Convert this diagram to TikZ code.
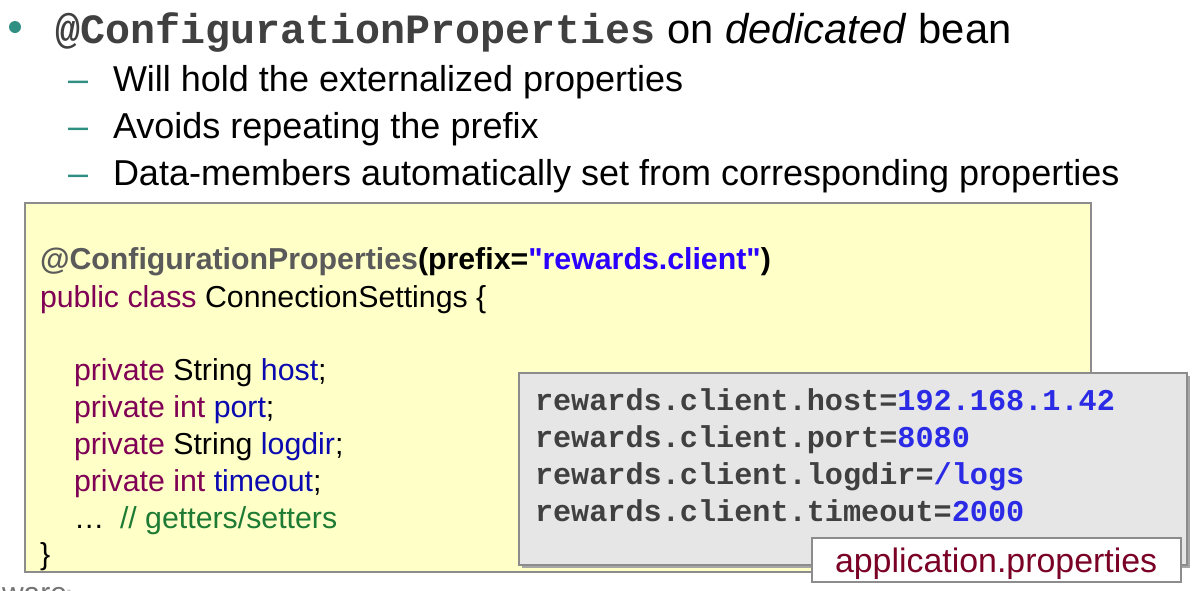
\documentclass[tikz,border=0pt]{standalone}
\usepackage{fontspec}
\setmainfont{Liberation Sans}[Ligatures=TeXOff]
\setmonofont{Liberation Mono}
\definecolor{teal}{HTML}{2F8F83}
\definecolor{annogray}{HTML}{5A5A5A}
\definecolor{kw}{HTML}{7F0055}
\definecolor{field}{HTML}{0A0AB0}
\definecolor{strc}{HTML}{2A00FF}
\definecolor{cmt}{HTML}{1E7B33}
\definecolor{pkey}{HTML}{404040}
\definecolor{pval}{HTML}{2B2BE6}
\definecolor{lbl}{HTML}{7A0026}
\definecolor{yellowbg}{HTML}{FFFFC8}
\definecolor{graybg}{HTML}{E6E6E6}
\definecolor{boxline}{HTML}{8C8C8C}
\tikzset{
  txt/.style={anchor=base west, inner sep=0pt, outer sep=0pt},
  lvlone/.style={txt, font=\fontsize{41.7}{50}\selectfont},
  lvltwo/.style={txt, font=\fontsize{36}{43}\selectfont},
  codetxt/.style={txt, font=\fontsize{30.3}{37}\selectfont},
  proptxt/.style={txt, font=\fontsize{30.2}{37}\ttfamily\bfseries, text=pkey},
}
\begin{document}
\begin{tikzpicture}[x=1pt,y=-1pt]
\useasboundingbox (0,0) rectangle (1198,590);
\clip (0,0) rectangle (1198,590);
\fill[white] (0,0) rectangle (1198,590);

% bullets
\fill[teal] (15,27) circle (6);
\node[lvlone] (t1) at (55,43) {{\ttfamily\bfseries\color{pkey}@ConfigurationProperties} on \textit{dedicated} bean};
\node[lvltwo, text=teal] (d1) at (68,91) {–};
\node[lvltwo] (t2) at (113,91) {Will hold the externalized properties};
\node[lvltwo, text=teal] (d2) at (68,138) {–};
\node[lvltwo] (t3) at (113,138) {Avoids repeating the prefix};
\node[lvltwo, text=teal] (d3) at (68,185) {–};
\node[lvltwo] (t4) at (113,185) {Data-members automatically set from corresponding properties};

% code box
\draw[boxline, line width=1.5pt, fill=yellowbg] (25,203) rectangle (1091,572);
\node[codetxt] (c1) at (40,269) {\bfseries{\color{annogray}@ConfigurationProperties}(prefix={\color{strc}"rewards.client"})};
\node[codetxt] (c2) at (40,307) {{\color{kw}public class} ConnectionSettings \{};
\node[codetxt] (c3) at (74,380) {{\color{kw}private} String {\color{field}host};};
\node[codetxt] (c4) at (74,417) {{\color{kw}private int} {\color{field}port};};
\node[codetxt] (c5) at (74,454) {{\color{kw}private} String {\color{field}logdir};};
\node[codetxt] (c6) at (74,491) {{\color{kw}private int} {\color{field}timeout};};
\node[codetxt] (c7) at (74,528) {…};
\node[codetxt, text=cmt] (c8) at (120,528) {// getters/setters};
\node[codetxt] (c9) at (40,564) {\}};

% properties box
\fill[black!35] (522,376) rectangle (1190,568);
\draw[boxline, line width=1.5pt, fill=graybg] (519,373) rectangle (1187,565);
\node[proptxt] (p1) at (535,410) {rewards.client.host={\color{pval}192.168.1.42}};
\node[proptxt] (p2) at (535,447) {rewards.client.port={\color{pval}8080}};
\node[proptxt] (p3) at (535,484) {rewards.client.logdir={\color{pval}/logs}};
\node[proptxt] (p4) at (535,521) {rewards.client.timeout={\color{pval}2000}};

% label
\draw[boxline, line width=1.5pt, fill=white] (812,538) rectangle (1181,582);
\node[txt, font=\fontsize{33.9}{40}\selectfont, text=lbl] (lab) at (835,572) {application.properties};

% logo fragment
\node[txt, font=\fontsize{30}{36}\selectfont, text=black!55] (logo) at (2,603) {ware\textsuperscript{\tiny ®}};
\end{tikzpicture}
\end{document}
